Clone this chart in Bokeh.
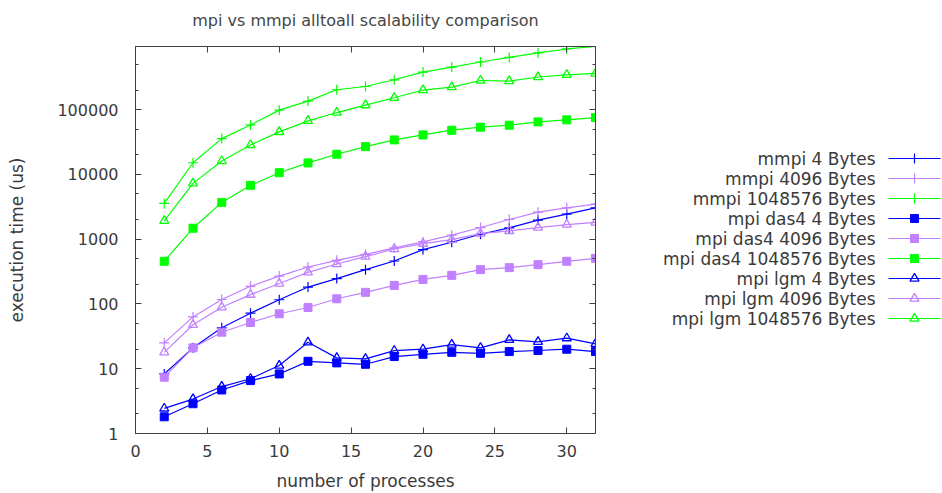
from bokeh.plotting import figure
from bokeh.layouts import row
from bokeh.models import (Range1d, FixedTicker, LogAxis, LinearAxis, NumeralTickFormatter,
                          SingleIntervalTicker, ColumnDataSource, CustomJSTickFormatter)
from bokeh.core.properties import value
from bokeh.embed import file_html
from bokeh.resources import INLINE

# ---------------- data ----------------
procs = [2, 4, 6, 8, 10, 12, 14, 16, 18, 20, 22, 24, 26, 28, 30, 32]

mmpi_4 = [8.3, 21, 42.8, 72, 116, 182, 246, 338, 460, 690, 896, 1190, 1490, 1960, 2430, 3040]
mmpi_4096 = [25, 63, 117, 187, 269, 371, 471, 583, 731, 906, 1150, 1510, 2010, 2610, 3040, 3470]
mmpi_1048576 = [3557, 15100, 35600, 57900, 97900, 135000, 202000, 227000, 288000, 379000,
                453000, 542000, 638000, 747000, 861000, 940000]
das4_4 = [1.81, 2.88, 4.7, 6.55, 8.3, 13.0, 12.3, 11.7, 15.4, 16.7, 17.9, 17.3, 18.4, 19.1, 20.0, 18.4]
das4_4096 = [7.4, 21, 36.6, 51.7, 70.5, 88, 120, 151, 193, 239, 276, 338, 363, 404, 455, 506]
das4_1048576 = [455, 1475, 3690, 6760, 10600, 15000, 20400, 26800, 34000, 40600, 48000, 53400,
                57300, 64500, 69300, 75200]
lgm_4 = [2.44, 3.4, 5.3, 7.0, 11.2, 25.6, 14.7, 14.2, 19.0, 20.0, 23.6, 21.0, 27.9, 26.0, 29.6, 24.2]
lgm_4096 = [17.9, 47.7, 89, 139, 207, 307, 413, 537, 705, 852, 980, 1220, 1340, 1510, 1680, 1810]
lgm_1048576 = [1914, 7260, 16100, 28400, 45200, 66900, 89900, 117000, 152000, 200000, 222000,
               281000, 275000, 318000, 344000, 361000]

title_text = "mpi vs mmpi alltoall scalability comparison"
labels = ["mmpi 4 Bytes", "mmpi 4096 Bytes", "mmpi 1048576 Bytes",
          "mpi das4 4 Bytes", "mpi das4 4096 Bytes", "mpi das4 1048576 Bytes",
          "mpi lgm 4 Bytes", "mpi lgm 4096 Bytes", "mpi lgm 1048576 Bytes"]
series = [mmpi_4, mmpi_4096, mmpi_1048576, das4_4, das4_4096, das4_1048576,
          lgm_4, lgm_4096, lgm_1048576]

y_major = [1, 10, 100, 1000, 10000, 100000]
y_minor = [2, 5, 20, 50, 200, 500, 2000, 5000, 20000, 50000, 200000, 500000]

# ---------------- styles ----------------
BLUE, PURPLE, GREEN = "#0000ff", "#c080ff", "#00ff00"
colors = [BLUE, PURPLE, GREEN] * 3
markers = ["cross"] * 3 + ["square"] * 3 + ["triangle"] * 3
FONT = "DejaVu Sans"
TXT = "#3a3a3a"
AX = "#404040"
FS = "16px"
FS_BIG = "17px"

ymax = max(max(s) for s in series)

p = figure(width=605, height=493, output_backend="svg", toolbar_location=None,
           y_axis_type="log", x_range=Range1d(0, max(procs)), y_range=Range1d(1, ymax),
           min_border_left=135, min_border_right=10, min_border_top=46, min_border_bottom=60)
p.title.text = title_text
p.title.align = "center"
p.title.vertical_align = "top"
p.title.text_font = FONT
p.title.text_font_size = FS
p.title.text_font_style = "normal"
p.title.text_color = "#454545"
p.title.standoff = 14
p.grid.visible = False
p.outline_line_color = AX

yt = FixedTicker(ticks=y_major, minor_ticks=y_minor)
xt = SingleIntervalTicker(interval=5, num_minor_ticks=0)
blank = CustomJSTickFormatter(code="return ' '")

def style_axis(ax):
    ax.axis_line_color = AX
    ax.major_tick_line_color = AX
    ax.minor_tick_line_color = AX
    ax.major_tick_in = 6
    ax.major_tick_out = 0
    ax.minor_tick_in = 3
    ax.minor_tick_out = 0
    ax.major_label_text_font = FONT
    ax.major_label_text_font_size = FS
    ax.major_label_text_color = TXT
    ax.axis_label_text_font = FONT
    ax.axis_label_text_font_size = FS_BIG
    ax.axis_label_text_font_style = "normal"
    ax.axis_label_text_color = TXT

ya = p.yaxis[0]
ya.ticker = yt
ya.formatter = NumeralTickFormatter(format="0")
style_axis(ya)
ya.major_label_standoff = 17
ya.axis_label = "execution time (us)"
ya.axis_label_standoff = 27

xa = p.xaxis[0]
xa.ticker = xt
style_axis(xa)
xa.minor_tick_line_color = None
xa.major_label_standoff = 11
xa.axis_label = "number of processes"
xa.axis_label_standoff = 11

ra = LogAxis(ticker=yt, formatter=blank)
style_axis(ra)
ra.major_label_standoff = 0
p.add_layout(ra, "right")

ta = LinearAxis(ticker=xt, formatter=blank)
style_axis(ta)
ta.minor_tick_line_color = None
ta.major_label_standoff = 0
ta.major_label_text_font_size = "4px"
p.add_layout(ta, "above")

for vals, col, mk in zip(series, colors, markers):
    src = ColumnDataSource(dict(x=procs, y=vals))
    p.line("x", "y", source=src, line_color=col, line_width=1.2)
    if mk == "square":
        p.scatter("x", "y", source=src, marker="square", size=8, fill_color=col, line_color=col)
    elif mk == "triangle":
        p.scatter("x", "y", source=src, marker="triangle", size=9, fill_color=None,
                  line_color=col, line_width=1.3)
    else:
        p.scatter("x", "y", source=src, marker="cross", size=10, line_color=col, line_width=1.2)

# ---------------- legend panel ----------------
# row() aligns this figure's frame with the main frame (screen rows 46..433)
lg = figure(width=337, height=493, output_backend="svg", toolbar_location=None,
            x_range=Range1d(605, 942), y_range=Range1d(433, 46),
            min_border_left=0, min_border_right=0, min_border_top=0, min_border_bottom=0,
            x_axis_location=None, y_axis_location=None)
lg.grid.visible = False
lg.outline_line_color = None

row_y = [158 + 20 * i for i in range(len(labels))]
lsrc = ColumnDataSource(dict(x=[875] * len(labels), y=row_y, text=labels,
                             x0=[888] * len(labels), x1=[940] * len(labels), c=colors))
lg.text(x="x", y="y", text="text", source=lsrc, text_align="right",
        text_baseline="middle", text_font=value(FONT), text_font_size=FS_BIG,
        text_color=TXT)
lg.segment(x0="x0", x1="x1", y0="y", y1="y", source=lsrc, line_color="c", line_width=1.2)
for yy, col, mk in zip(row_y, colors, markers):
    if mk == "square":
        lg.scatter([914], [yy], marker="square", size=8, fill_color=col, line_color=col)
    elif mk == "triangle":
        lg.scatter([914], [yy], marker="triangle", size=9, fill_color=None, line_color=col, line_width=1.3)
    else:
        lg.scatter([914], [yy], marker="cross", size=10, line_color=col, line_width=1.2)

layout = row(p, lg, spacing=0)
open("out.html", "w").write(file_html(layout, INLINE))
